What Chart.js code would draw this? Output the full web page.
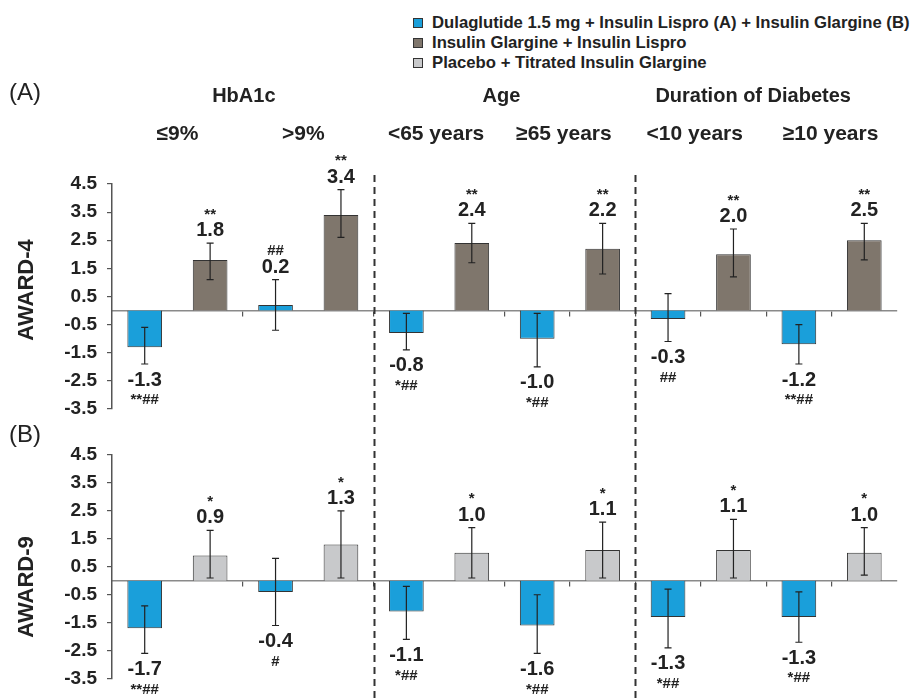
<!DOCTYPE html>
<html>
<head>
<meta charset="utf-8">
<script src="https://cdn.jsdelivr.net/npm/chart.js@4.4.0/dist/chart.umd.min.js"></script>
<style>
  body { margin: 0; background: #fff; font-family: "Liberation Sans", Arial, sans-serif; }
  #wrap { position: relative; width: 917px; height: 700px; }
  #legend { position: absolute; left: 413px; top: 13px; font-size: 16.7px; font-weight: bold; color: #222; }
  #legend .row { height: 20px; display: flex; align-items: center; }
  #legend .sw { width: 10px; height: 10px; border: 1px solid #333; box-sizing: border-box; margin-right: 9px; }
  canvas { position: absolute; left: 0; }
</style>
</head>
<body>
<div id="wrap">
  <div id="legend"></div>
  <canvas id="chartA" width="917" height="440" style="top:0"></canvas>
  <canvas id="chartB" width="917" height="285" style="top:415px"></canvas>
</div>
<script>
// subgroups, two bars each
const subgroups = ['≤9%', '>9%', '<65 years', '≥65 years', '<10 years', '≥10 years'];
const groupTitles = ['HbA1c', 'Age', 'Duration of Diabetes'];
const legendLabels = [
  'Dulaglutide 1.5 mg + Insulin Lispro (A) + Insulin Glargine (B)',
  'Insulin Glargine + Insulin Lispro',
  'Placebo + Titrated Insulin Glargine'
];

// AWARD-4: HbA1c change
const a4Dula   = [-1.3, 0.2, -0.8, -1.0, -0.3, -1.2];
const a4DulaLo = [-1.9, -0.7, -1.4, -2.0, -1.1, -1.9];
const a4DulaHi = [-0.6, 1.1, -0.1, -0.1, 0.6, -0.5];
const a4DulaSig = ['**##', '##', '*##', '*##', '##', '**##'];

const a4Glar   = [1.8, 3.4, 2.4, 2.2, 2.0, 2.5];
const a4GlarLo = [1.1, 2.6, 1.7, 1.3, 1.2, 1.8];
const a4GlarHi = [2.4, 4.3, 3.1, 3.1, 2.9, 3.1];
const a4GlarSig = ['**', '**', '**', '**', '**', '**'];

// AWARD-9
const a9Dula   = [-1.7, -0.4, -1.1, -1.6, -1.3, -1.3];
const a9DulaLo = [-2.6, -1.6, -2.1, -2.6, -2.4, -2.2];
const a9DulaHi = [-0.9, 0.8, -0.2, -0.5, -0.3, -0.4];
const a9DulaSig = ['**##', '#', '*##', '*##', '*##', '*##'];

const a9Plac   = [0.9, 1.3, 1.0, 1.1, 1.1, 1.0];
const a9PlacLo = [0.1, 0.1, 0.1, 0.1, 0.1, 0.2];
const a9PlacHi = [1.8, 2.5, 1.9, 2.1, 2.2, 1.9];
const a9PlacSig = ['*', '*', '*', '*', '*', '*'];

const BLUE = '#1a9fda', BROWN = '#7f766c', GRAY = '#c8c9cb', EDGE = '#333', INK = '#222';
const FONT = '"Liberation Sans", Arial, sans-serif';

Chart.defaults.font.family = FONT;

// legend
const legendColors = [BLUE, BROWN, GRAY];
document.getElementById('legend').innerHTML = legendLabels.map((t, i) =>
  `<div class="row"><span class="sw" style="background:${legendColors[i]}"></span>${t}</div>`).join('');

const labels = subgroups.flatMap(s => [s, s]);
const slot = (arr, pos) => arr.flatMap(v => pos === 0 ? [v, null] : [null, v]);
const tickAt = [2, 4, 6, 7, 8, 9, 10, 11, 12];

function dataset(label, values, lo, hi, sig, pos, color) {
  return {
    label, data: slot(values, pos), lo, hi, sig,
    backgroundColor: color, borderColor: EDGE, borderWidth: 1,
    barPercentage: 0.53, categoryPercentage: 1, skipNull: true
  };
}

// error bars, value labels, dashed dividers and headers
function decor(panel) {
  return {
    id: 'decor',
    afterDatasetsDraw(chart) {
      const ctx = chart.ctx, y = chart.scales.y;
      ctx.save();
      chart.data.datasets.forEach((ds, i) => {
        const meta = chart.getDatasetMeta(i);
        ds.data.forEach((v, j) => {
          if (v === null) return;
          const k = j >> 1;
          const x = meta.data[j].x;
          const yHi = y.getPixelForValue(ds.hi[k]);
          const yLo = y.getPixelForValue(ds.lo[k]);
          ctx.strokeStyle = INK;
          ctx.lineWidth = 1.2;
          ctx.beginPath();
          ctx.moveTo(x, yHi); ctx.lineTo(x, yLo);
          ctx.moveTo(x - 3.5, yHi); ctx.lineTo(x + 3.5, yHi);
          ctx.moveTo(x - 3.5, yLo); ctx.lineTo(x + 3.5, yLo);
          ctx.stroke();

          const up = v >= 0;
          const yVal = up ? yHi - 12.5 : yLo + 16;
          ctx.fillStyle = INK;
          ctx.textAlign = 'center';
          ctx.textBaseline = 'middle';
          ctx.font = `bold 20px ${FONT}`;
          ctx.fillText(v.toFixed(1), x, yVal);
          ctx.font = `bold 15px ${FONT}`;
          ctx.fillText(ds.sig[k], x, up ? yVal - 16 : yVal + 20);
        });
      });
      ctx.restore();
    },
    afterDraw(chart) {
      const ctx = chart.ctx, xs = chart.scales.x;
      const px = i => xs.getPixelForValue(i);
      const edge = k => k === 0 ? xs.left : k === 12 ? xs.right : (px(k - 1) + px(k)) / 2;
      ctx.save();

      // dividers between the three subgroup blocks
      ctx.strokeStyle = EDGE;
      ctx.lineWidth = 2;
      ctx.setLineDash([7, 5]);
      [4, 8].forEach(k => {
        const x = Math.round(edge(k)) + 0.5;
        ctx.beginPath();
        ctx.moveTo(x, panel.dashFrom);
        ctx.lineTo(x, panel.dashTo);
        ctx.stroke();
      });
      ctx.setLineDash([]);

      ctx.fillStyle = INK;
      ctx.textBaseline = 'middle';
      ctx.textAlign = 'left';
      ctx.font = `24px ${FONT}`;
      ctx.fillText(panel.tag, 9, panel.tagY);

      if (panel.headers) {
        ctx.textAlign = 'center';
        ctx.font = `bold 20px ${FONT}`;
        const titleNudge = [1, -3, -13];
        groupTitles.forEach((t, i) => {
          ctx.fillText(t, (edge(4 * i) + edge(4 * i + 4)) / 2 + titleNudge[i], 96);
        });
        ctx.font = `bold 21px ${FONT}`;
        const subNudge = [0, -5, -3, -6, -6, -1];
        subgroups.forEach((t, i) => {
          ctx.fillText(t, (px(2 * i) + px(2 * i + 1)) / 2 + subNudge[i], 134);
        });
      }

      // panel axis title
      ctx.translate(27, panel.titleY);
      ctx.rotate(-Math.PI / 2);
      ctx.textAlign = 'center';
      ctx.font = `bold 22px ${FONT}`;
      ctx.fillText(panel.title, 0, 0);
      ctx.restore();
    }
  };
}

function makePanel(id, datasets, padding, panel) {
  return new Chart(document.getElementById(id), {
    type: 'bar',
    data: { labels, datasets },
    options: {
      responsive: false,
      animation: false,
      layout: { padding },
      plugins: { legend: { display: false }, tooltip: { enabled: false } },
      scales: {
        x: {
          type: 'category',
          axis: 'x',
          position: { y: 0 },
          offset: true,
          ticks: { display: false },
          grid: {
            offset: true,
            drawOnChartArea: false,
            tickLength: 5,
            lineWidth: 1.2,
            tickColor: c => tickAt.includes(c.index) ? '#555' : 'rgba(0,0,0,0)'
          },
          border: { display: true, color: '#8a8a8a', width: 1.5 },
          afterFit: s => { s.height = 0; }
        },
        y: {
          min: -3.5,
          max: 4.5,
          ticks: { stepSize: 1, color: INK, padding: 10, font: { size: 19, weight: 'bold' } },
          grid: { drawOnChartArea: false, tickLength: 5, tickColor: '#555', lineWidth: 1.2 },
          border: { color: '#555', width: 1.5 },
          afterFit: s => { s.width = 112; }
        }
      }
    },
    plugins: [decor(panel)]
  });
}

makePanel('chartA', [
  dataset(legendLabels[0], a4Dula, a4DulaLo, a4DulaHi, a4DulaSig, 0, BLUE),
  dataset(legendLabels[1], a4Glar, a4GlarLo, a4GlarHi, a4GlarSig, 1, BROWN)
], { left: 0, right: 20, top: 184, bottom: 31 },
  { tag: '(A)', tagY: 93, title: 'AWARD-4', titleY: 290, headers: true, dashFrom: 175, dashTo: 415 });

makePanel('chartB', [
  dataset(legendLabels[0], a9Dula, a9DulaLo, a9DulaHi, a9DulaSig, 0, BLUE),
  dataset(legendLabels[2], a9Plac, a9PlacLo, a9PlacHi, a9PlacSig, 1, GRAY)
], { left: 0, right: 20, top: 40, bottom: 21 },
  { tag: '(B)', tagY: 20, title: 'AWARD-9', titleY: 172, headers: false, dashFrom: 0, dashTo: 285 });
</script>
</body>
</html>
